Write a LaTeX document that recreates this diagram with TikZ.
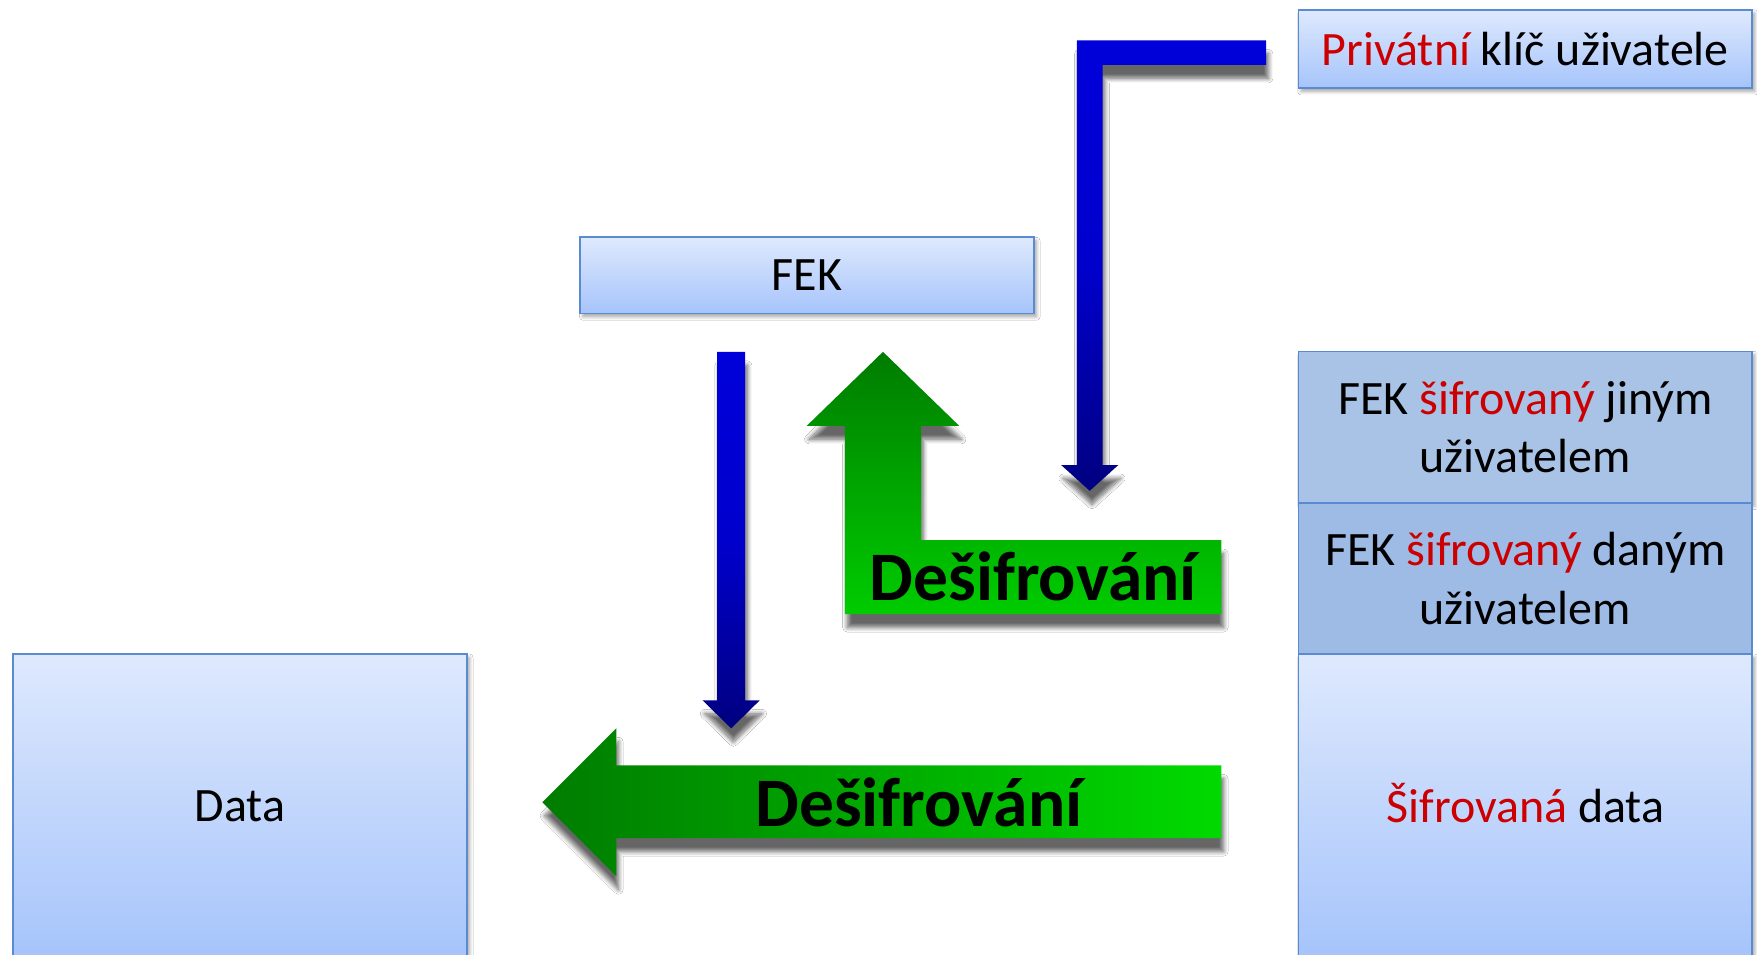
\documentclass[tikz,border=0pt]{standalone}
\usepackage{fontspec}
\setmainfont{Carlito}
\usetikzlibrary{shadows.blur}
\definecolor{boxtop}{HTML}{DEE9FD}
\definecolor{boxbot}{HTML}{A6C4FB}
\definecolor{boxline}{HTML}{5A8AD0}
\definecolor{cellAc}{HTML}{A9C3E6}
\definecolor{cellBc}{HTML}{9EBBE6}
\definecolor{txtred}{HTML}{CC0000}
\definecolor{bluetop}{HTML}{0000DA}
\definecolor{bluebot}{HTML}{000080}
\definecolor{gdark}{HTML}{007C00}
\definecolor{glight}{HTML}{00DA00}
\definecolor{gmid}{HTML}{00CC00}
\tikzset{
  boxshadow/.style={blur shadow={shadow xshift=1.2pt, shadow yshift=-1.5pt, shadow blur steps=6, shadow blur radius=1.5pt, shadow opacity=35}},
  arrshadow/.style={blur shadow={shadow xshift=1pt, shadow yshift=-6pt, shadow blur steps=8, shadow blur radius=2pt, shadow opacity=60}},
  box/.style={draw=boxline, line width=0.75pt, top color=boxtop, bottom color=boxbot,
    inner sep=0pt, anchor=north west, minimum width=202.5pt,
    font=\fontsize{21.4}{26}\selectfont, align=center, boxshadow},
  cell/.style={draw=boxline, line width=0.75pt, inner sep=0pt, anchor=north west,
    minimum width=202.5pt, font=\fontsize{21.4}{26}\selectfont, align=center},
  bluearrow/.style={top color=bluetop, bottom color=bluebot, middle color=bluetop!85!bluebot, arrshadow},
  greenup/.style={top color=gdark, bottom color=gmid, arrshadow},
  greenleft/.style={left color=gdark, right color=glight, arrshadow},
  biglabel/.style={font=\fontsize{31}{36}\selectfont\bfseries, text=black, inner sep=0pt}
}
\begin{document}
\begin{tikzpicture}[x=0.5pt, y=-0.5pt]
\clip (0,0) rectangle (1568,852);
\fill[white] (0,0) rectangle (1568,852);

% boxes
\node[box, minimum height=35pt] (priv) at (1158,8) {\textcolor{txtred}{Privátní} klíč uživatele};
\node[box, minimum height=34pt] (fek) at (517,211) {FEK};
\node[cell, boxshadow, minimum height=67.5pt, fill=cellAc] (cellA) at (1158,313)
  {FEK \textcolor{txtred}{šifrovaný} jiným\\uživatelem};
\node[cell, minimum height=67.5pt, fill=cellBc] (cellB) at (1158,448)
  {FEK \textcolor{txtred}{šifrovaný} daným\\uživatelem};
\node[box, minimum height=135.5pt] (cellC) at (1158,583) {\smash{\textcolor{txtred}{Šifrovaná}} data};
\node[box, minimum height=135.5pt] (data) at (11,583) {Data};

% blue L arrow from private key
\path[bluearrow] (1130,36) -- (961,36) -- (961,415) -- (947,415) -- (972.5,438)
  -- (998,415) -- (984,415) -- (984,58) -- (1130,58) -- cycle;

% blue arrow from FEK down
\path[bluearrow] (640,314) -- (640,625) -- (627,625) -- (652.5,650) -- (678,625)
  -- (665,625) -- (665,314) -- cycle;

% green up L arrow
\path[greenup] (788,314) -- (856,380) -- (822,380) -- (822,482) -- (1090,482)
  -- (1090,548) -- (754,548) -- (754,380) -- (720,380) -- cycle;
\node[biglabel] (dec1) at (922,514) {Dešifrování};

% green left arrow
\path[greenleft] (484,716) -- (550,650) -- (550,683) -- (1090,683) -- (1090,748)
  -- (550,748) -- (550,782) -- cycle;
\node[biglabel] (dec2) at (820,716) {Dešifrování};
\end{tikzpicture}
\end{document}
